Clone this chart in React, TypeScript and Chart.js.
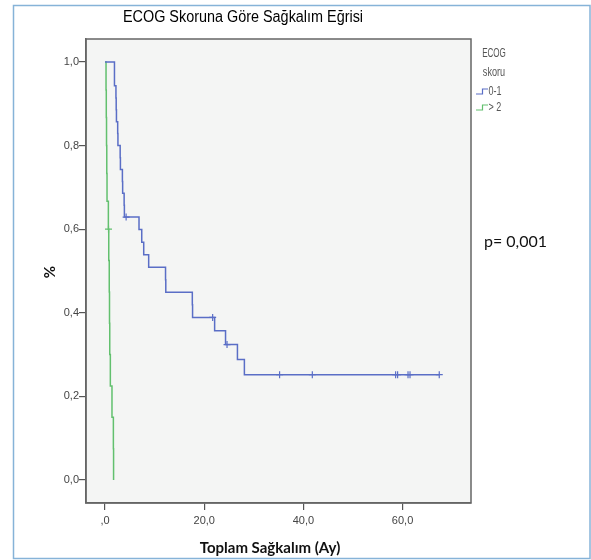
import React, { useEffect, useRef } from 'react';
import { Chart, registerables } from 'chart.js';

Chart.register(...registerables);

const TITLE = 'ECOG Skoruna Göre Sağkalım Eğrisi';
const X_TITLE = 'Toplam Sağkalım (Ay)';
const Y_TITLE = '%';
const LEGEND_TITLE = ['ECOG', 'skoru'];
const SERIES_LABELS = ['0-1', '> 2'];
const P_TEXT = 'p= 0,001';

const X_TICKS = [0, 20, 40, 60];
const X_TICK_LABELS = [',0', '20,0', '40,0', '60,0'];
const Y_TICKS = [0, 0.2, 0.4, 0.6, 0.8, 1.0];
const Y_TICK_LABELS = ['0,0', '0,2', '0,4', '0,6', '0,8', '1,0'];

// ECOG 0-1 survival steps
const blueTimes = [0, 1.9, 2.2, 2.25, 2.3, 2.55, 2.6, 3.05, 3.1, 3.5, 3.55, 3.85, 3.9, 6.85, 7.4, 7.8, 8.8, 12.2, 12.25, 17.6, 17.65, 22.1, 24.3, 26.7, 28.1, 67.4];
const blueSurv = [1, 0.943, 0.914, 0.886, 0.857, 0.829, 0.8, 0.771, 0.743, 0.714, 0.686, 0.657, 0.629, 0.599, 0.569, 0.539, 0.509, 0.479, 0.449, 0.419, 0.389, 0.357, 0.324, 0.288, 0.252, 0.252];
const blueCensorTimes = [4.25, 21.7, 24.6, 35.2, 41.8, 58.6, 59.0, 61.1, 61.5, 67.4];
const blueCensorSurv = [0.629, 0.389, 0.324, 0.252, 0.252, 0.252, 0.252, 0.252, 0.252, 0.252];

// ECOG > 2 survival steps
const greenTimes = [0, 0.2, 0.25, 0.3, 0.35, 0.4, 0.67, 0.75, 0.85, 0.9, 0.95, 1.07, 1.4, 1.68, 1.72];
const greenSurv = [1, 0.933, 0.867, 0.8, 0.733, 0.667, 0.6, 0.525, 0.45, 0.375, 0.3, 0.225, 0.15, 0.075, 0];
const greenCensorTimes = [0.7];
const greenCensorSurv = [0.6];

const BLUE = '#5a6ec6';
const GREEN = '#62c06e';

const toPts = (xs: number[], ys: number[]) => xs.map((x, i) => ({ x, y: ys[i] }));

const drawScaled = (ctx: any, text: string, x: number, y: number, sx: number) => {
  ctx.save();
  ctx.translate(x, y);
  ctx.scale(sx, 1);
  ctx.fillText(text, 0, 0);
  ctx.restore();
};

const decorPlugin = {
  id: 'decor',
  beforeDraw(chart: any) {
    const { ctx, chartArea: a } = chart;
    ctx.save();
    ctx.fillStyle = '#ffffff';
    ctx.fillRect(0, 0, chart.width, chart.height);
    ctx.fillStyle = '#f4f5f4';
    ctx.fillRect(a.left, a.top, a.right - a.left, a.bottom - a.top);
    ctx.restore();
  },
  afterDraw(chart: any) {
    const { ctx, chartArea: a } = chart;
    ctx.save();
    // plot frame
    ctx.strokeStyle = '#666666';
    ctx.lineWidth = 1.5;
    ctx.strokeRect(a.left, a.top, a.right - a.left, a.bottom - a.top);
    // outer frame
    ctx.strokeStyle = '#86b3d8';
    ctx.lineWidth = 1.5;
    ctx.strokeRect(13.5, 5.5, 576.5, 553);

    // title
    ctx.fillStyle = '#000000';
    ctx.font = '16px "Liberation Sans", Arial, sans-serif';
    ctx.textAlign = 'center';
    ctx.textBaseline = 'middle';
    drawScaled(ctx, TITLE, 243, 18, 0.9);

    // axis titles
    ctx.fillStyle = '#111111';
    ctx.font = 'bold 15px Lato, "Open Sans", sans-serif';
    ctx.fillText(X_TITLE, 270, 548);
    ctx.save();
    ctx.translate(50, 272);
    ctx.rotate(-Math.PI / 2);
    ctx.fillText(Y_TITLE, 0, 0);
    ctx.restore();

    // legend
    ctx.fillStyle = '#555555';
    ctx.font = '13px "Liberation Sans", Arial, sans-serif';
    drawScaled(ctx, LEGEND_TITLE[0], 494, 53, 0.62);
    drawScaled(ctx, LEGEND_TITLE[1], 494, 72, 0.7);
    const colors = [BLUE, GREEN];
    const ys = [92, 108];
    ctx.textAlign = 'left';
    SERIES_LABELS.forEach((lab, i) => {
      const y = ys[i];
      ctx.strokeStyle = colors[i];
      ctx.lineWidth = 1.2;
      ctx.beginPath();
      ctx.moveTo(476, y + 2);
      ctx.lineTo(482.5, y + 2);
      ctx.lineTo(482.5, y - 3);
      ctx.lineTo(488, y - 3);
      ctx.stroke();
      ctx.fillStyle = '#555555';
      ctx.font = '12px "Liberation Sans", Arial, sans-serif';
      drawScaled(ctx, lab, 488.5, y, 0.75);
    });

    // p value
    ctx.fillStyle = '#111111';
    ctx.font = '16px Lato, "Open Sans", sans-serif';
    ctx.fillText(P_TEXT, 484, 242);
    ctx.restore();
  },
};

export default function App() {
  const ref = useRef<HTMLCanvasElement>(null);
  useEffect(() => {
    if (!ref.current) return;
    const chart = new Chart(ref.current, {
      type: 'line',
      data: {
        datasets: [
          {
            label: SERIES_LABELS[0],
            data: toPts(blueTimes, blueSurv),
            borderColor: BLUE,
            borderWidth: 1.5,
            stepped: 'before',
            pointRadius: 0,
            fill: false,
          },
          {
            label: SERIES_LABELS[1],
            data: toPts(greenTimes, greenSurv),
            borderColor: GREEN,
            borderWidth: 1.5,
            stepped: 'before',
            pointRadius: 0,
            fill: false,
          },
          {
            label: 'censor1',
            data: toPts(blueCensorTimes, blueCensorSurv),
            showLine: false,
            borderColor: BLUE,
            pointStyle: 'cross',
            pointRadius: 3.5,
            pointBorderWidth: 1.2,
          },
          {
            label: 'censor2',
            data: toPts(greenCensorTimes, greenCensorSurv),
            showLine: false,
            borderColor: GREEN,
            pointStyle: 'cross',
            pointRadius: 3.5,
            pointBorderWidth: 1.2,
          },
        ],
      },
      options: {
        animation: false,
        responsive: false,
        maintainAspectRatio: false,
        layout: { padding: { left: 0, top: 39, right: 120, bottom: 0 } },
        plugins: {
          legend: { display: false },
          tooltip: { enabled: false },
          title: { display: false },
        },
        scales: {
          x: {
            type: 'linear',
            min: -3.84,
            max: 73.8,
            afterFit: (s: any) => { s.height = 57; },
            afterBuildTicks: (s: any) => { s.ticks = X_TICKS.map((v) => ({ value: v })); },
            ticks: {
              callback: (v: any) => X_TICK_LABELS[X_TICKS.indexOf(Number(v))] ?? '',
              color: '#444444',
              font: { family: '"Liberation Sans", Arial, sans-serif', size: 11 },
              padding: 4,
              maxRotation: 0,
            },
            grid: { drawOnChartArea: false, drawTicks: true, tickLength: 7, color: '#555555', lineWidth: 1.2 },
            border: { display: true, color: '#666666', width: 1.5 },
          },
          y: {
            type: 'linear',
            min: -0.055,
            max: 1.055,
            afterFit: (s: any) => { s.width = 86; },
            afterBuildTicks: (s: any) => { s.ticks = Y_TICKS.map((v) => ({ value: v })); },
            ticks: {
              callback: (v: any) => {
                const i = Y_TICKS.findIndex((t) => Math.abs(t - Number(v)) < 1e-6);
                return i >= 0 ? Y_TICK_LABELS[i] : '';
              },
              color: '#444444',
              font: { family: '"Liberation Sans", Arial, sans-serif', size: 11 },
              padding: 0,
            },
            grid: { drawOnChartArea: false, drawTicks: true, tickLength: 7, color: '#555555', lineWidth: 1.2 },
            border: { display: true, color: '#666666', width: 1.5 },
          },
        },
      },
      plugins: [decorPlugin],
    });
    return () => chart.destroy();
  }, []);
  return (
    <div style={{ position: 'absolute', left: 0, top: 0, width: 591, height: 560 }}>
      <canvas ref={ref} width={591} height={560} style={{ display: 'block', width: 591, height: 560 }} />
    </div>
  );
}
